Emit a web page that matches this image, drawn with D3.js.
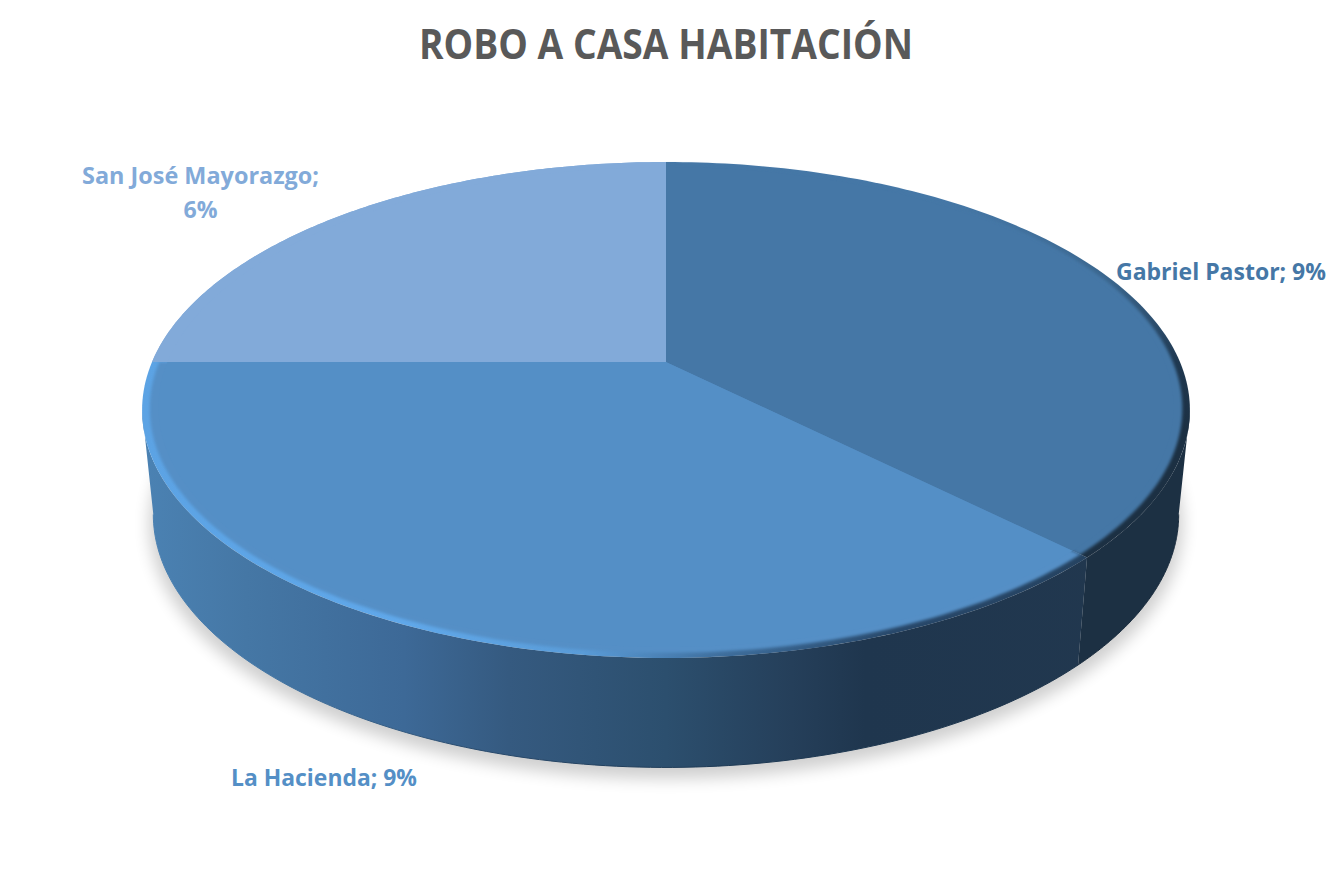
<!DOCTYPE html>
<html><head><meta charset="utf-8">
<script src="https://cdn.jsdelivr.net/npm/d3@7"></script>
<style>html,body{margin:0;padding:0;background:#fff}svg{display:block}</style>
</head><body><svg id="c" width="1333" height="889"></svg>
<script>
const titleText = "ROBO A CASA HABITACIÓN";
const categories = ["Gabriel Pastor", "La Hacienda", "San José Mayorazgo"];
const values = [9, 9, 6];
const percentLabels = ["9%", "9%", "6%"];
const faceColors = ["#4577a6", "#548fc6", "#82aad9"];

const svg = d3.select("#c");
const defs = svg.append("defs");
const blur = (id, sd) => defs.append("filter").attr("id", id)
  .attr("x", "-10%").attr("y", "-10%").attr("width", "120%").attr("height", "120%")
  .append("feGaussianBlur").attr("stdDeviation", sd);
blur("shadowBlur", 8); blur("rimBlur", 1.6);

const grad = (id, stops, y) => {
  const g = defs.append("linearGradient").attr("id", id).attr("gradientUnits", "userSpaceOnUse");
  if (y) g.attr("x1", 0).attr("x2", 0).attr("y1", y[0]).attr("y2", y[1]);
  else g.attr("x1", 142).attr("x2", 1190).attr("y1", 0).attr("y2", 0);
  stops.forEach(([o, c]) => g.append("stop").attr("offset", o).attr("stop-color", c));
};
grad("sideHacienda", [[0, "#4b82b3"], [0.1, "#4577a5"], [0.25, "#3d6997"], [0.35, "#355a80"], [0.5, "#2c4f6e"], [0.62, "#253f5a"], [0.69, "#1f364e"], [1, "#22384f"]]);
grad("rimHacienda", [[0, "#5ca3e4"], [0.25, "#60a8ea"], [0.42, "#5a9cd8"], [0.55, "#3f6f9e"], [0.72, "#28486a"], [1, "#24405c"]]);
grad("edgeHacienda", [[0, "#4b82b3"], [0.12, "#4577a5"], [0.3, "#2b4d70"], [0.5, "#1d3a56"], [1, "#1c3146"]]);
grad("rimGabriel", [[0, "#4577a6"], [0.35, "#3a658c"], [0.7, "#1f3850"], [1, "#1c3043"]], [200, 430]);

// perspective model of the pie disc
const k = 0.1935, P = {cx: 666, top: {A: 514, B: 238.7, cy: 362}, bottom: {A: 503, B: 243.5, cy: 465.5}};
const project = (plane, a, r = 1) => {
  const u = r * Math.sin(a), v = -r * Math.cos(a), w = 1 - k * v;
  return [P.cx + plane.A * u / w, plane.cy + plane.B * v / w];
};
const pieGen = d3.pie().sort(null).value(d => d);
const slices = pieGen(values);
const line = d3.line();
const arcPts = (plane, a0, a1, r = 1) => d3.range(0, 121).map(i => project(plane, a0 + (a1 - a0) * i / 120, r));
const wedge = (plane, a0, a1, r = 1) => line([[P.cx, plane.cy], ...arcPts(plane, a0, a1, r)]) + "Z";

// silhouette angles
const silR = Math.acos(-k), silL = 2 * Math.PI - silR;

// shadow
svg.append("path")
  .attr("d", line(arcPts({A: 507, B: 245, cy: 475}, 0, 2 * Math.PI)) + "Z")
  .attr("fill", "#000").attr("opacity", 0.19).attr("filter", "url(#shadowBlur)");

// sides
const sideFills = ["#1c3043", "url(#sideHacienda)", "none"];
const sideEdge = ["#1a2c3e", "url(#edgeHacienda)", "none"];
slices.forEach((s, i) => {
  const a0 = Math.max(s.startAngle, silR), a1 = Math.min(s.endAngle, silL);
  if (a1 <= a0 || sideFills[i] === "none") return;
  svg.append("path")
    .attr("d", line([...arcPts(P.top, a0, a1), ...arcPts(P.bottom, a1, a0)]) + "Z")
    .attr("fill", sideFills[i]);
  svg.append("path").attr("d", line(arcPts(P.bottom, a0, a1)))
    .attr("fill", "none").attr("stroke", sideEdge[i]).attr("stroke-width", 1);
});

// rim and top faces
const rimFills = ["url(#rimGabriel)", "url(#rimHacienda)", "#82aad9"];
slices.forEach((s, i) => {
  svg.append("path").attr("d", wedge(P.top, s.startAngle, s.endAngle)).attr("fill", rimFills[i]);
});
const faceGroup = svg.append("g");
slices.forEach((s, i) => {
  const r = i === 2 ? 1 : 0.986;
  faceGroup.append("path").attr("d", wedge(P.top, s.startAngle, s.endAngle, r))
    .attr("fill", faceColors[i]).attr("filter", i === 2 ? null : "url(#rimBlur)");
});
// crisp radial seams
[2, 0, 1].forEach(i => {
  const s = slices[i];
  faceGroup.append("path").attr("d", wedge(P.top, s.startAngle, s.endAngle, 0.97)).attr("fill", faceColors[i]);
});

// text
const txt = (t, x, y, size, color, len) => svg.append("text").text(t)
  .attr("x", x).attr("y", y).attr("text-anchor", "middle")
  .attr("textLength", len).attr("lengthAdjust", "spacingAndGlyphs")
  .style("font-family", "'Open Sans',sans-serif").style("font-weight", 700)
  .style("font-size", size + "px").attr("fill", color);

txt(titleText, 666, 59, 41, "#595959", 494);
txt(`${categories[0]}; ${percentLabels[0]}`, 1221, 280, 22.5, faceColors[0], 210);
txt(`${categories[2]};`, 200.5, 184, 22.5, faceColors[2], 237);
txt(percentLabels[2], 200.5, 218, 22.5, faceColors[2], 34);
txt(`${categories[1]}; ${percentLabels[1]}`, 324, 786, 22.5, faceColors[1], 186);
</script></body></html>
